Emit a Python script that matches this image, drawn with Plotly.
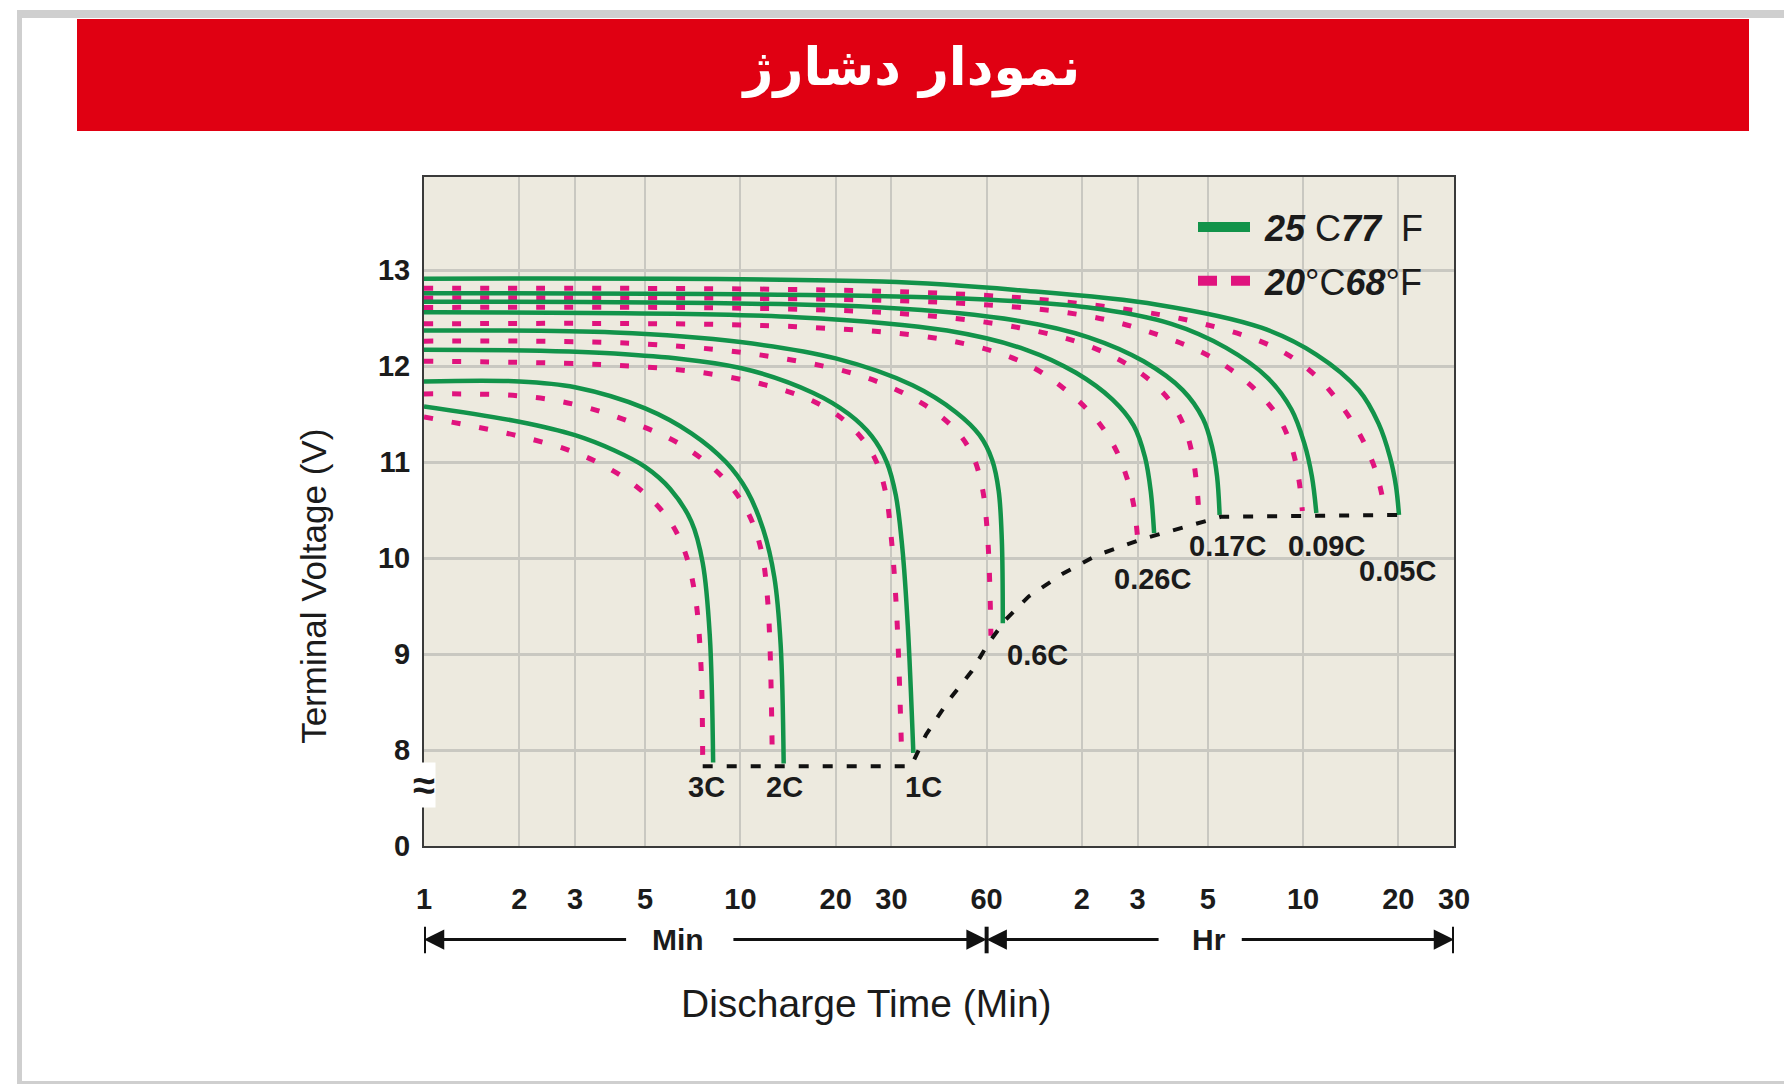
import math
import plotly.graph_objects as go

# discharge rates, in the order the curves end (left to right)
rates = ["3C", "2C", "1C", "0.6C", "0.26C", "0.17C", "0.09C", "0.05C"]

# 25 C / 77 F curves: time (min) and terminal voltage (V)
t25_3c = [1, 2, 3, 4, 5, 6, 7, 7.6, 8.0, 8.2]
v25_3c = [11.58, 11.42, 11.28, 11.12, 10.95, 10.72, 10.38, 9.95, 9.2, 7.87]
t25_2c = [1, 2, 3, 5, 7, 9, 10.5, 11.8, 12.8, 13.4, 13.7]
v25_2c = [11.84, 11.84, 11.78, 11.56, 11.3, 11.0, 10.7, 10.3, 9.8, 9.1, 7.86]
t25_1c = [1, 4, 10, 17, 22, 26, 29, 31, 32.5, 33.8, 35.2]
v25_1c = [12.17, 12.13, 11.98, 11.72, 11.5, 11.27, 11.0, 10.65, 10.1, 9.3, 7.97]
t25_06c = [1, 4, 10, 20, 35, 48, 57, 62.5, 65.5, 67, 67.5]
v25_06c = [12.37, 12.35, 12.25, 12.08, 11.8, 11.52, 11.28, 11.02, 10.7, 10.2, 9.32]
t25_026c = [1, 15, 45, 80, 115, 150, 175, 190, 198, 203]
v25_026c = [12.56, 12.51, 12.37, 12.17, 11.93, 11.65, 11.38, 11.05, 10.7, 10.26]
t25_017c = [1, 28, 76, 126, 188, 250, 290, 310, 321, 327]
v25_017c = [12.67, 12.61, 12.47, 12.3, 12.05, 11.75, 11.45, 11.15, 10.85, 10.45]
t25_009c = [1, 46, 126, 230, 343, 463, 551, 605, 640, 661]
v25_009c = [12.76, 12.71, 12.61, 12.44, 12.19, 11.88, 11.55, 11.2, 10.85, 10.47]
t25_005c = [1, 28, 76, 208, 443, 661, 900, 1040, 1130, 1180, 1206]
v25_005c = [12.91, 12.88, 12.79, 12.64, 12.4, 12.12, 11.75, 11.4, 11.05, 10.75, 10.45]

# 20 C / 68 F curves
t20_3c = [1, 2, 3, 4, 5, 6, 6.7, 7.2, 7.5, 7.6]
v20_3c = [11.47, 11.27, 11.1, 10.9, 10.67, 10.38, 10.05, 9.6, 8.9, 7.88]
t20_2c = [1, 2, 3, 4.4, 6.5, 8.8, 10.5, 11.6, 12.2, 12.6]
v20_2c = [11.71, 11.69, 11.6, 11.43, 11.18, 10.84, 10.49, 10.1, 9.55, 7.99]
t20_1c = [1, 4, 8, 14, 19, 23, 26.5, 28.7, 30, 31.2, 32.3]
v20_1c = [12.05, 12.01, 11.92, 11.74, 11.55, 11.33, 11.05, 10.7, 10.2, 9.4, 8.0]
t20_06c = [1, 5, 13, 25, 38, 48, 54, 58, 60.5, 61.9]
v20_06c = [12.26, 12.23, 12.09, 11.88, 11.6, 11.33, 11.08, 10.75, 10.2, 9.19]
t20_026c = [1, 15, 45, 78, 105, 132, 152, 166, 175, 180]
v20_026c = [12.44, 12.41, 12.27, 12.04, 11.77, 11.46, 11.16, 10.85, 10.55, 10.21]
t20_017c = [1, 28, 76, 126, 180, 225, 252, 268, 277, 282]
v20_017c = [12.61, 12.56, 12.4, 12.21, 11.95, 11.66, 11.38, 11.08, 10.75, 10.38]
t20_009c = [1, 46, 126, 207, 309, 419, 505, 555, 582, 597]
v20_009c = [12.71, 12.66, 12.52, 12.33, 12.09, 11.77, 11.45, 11.13, 10.82, 10.49]
t20_005c = [1, 28, 98, 266, 490, 658, 800, 920, 1000, 1050, 1089]
v20_005c = [12.81, 12.78, 12.68, 12.47, 12.19, 11.9, 11.57, 11.25, 10.98, 10.75, 10.49]

# end-of-discharge line
cutoff_time = [7.6, 34.6, 38.6, 45.6, 53.8, 61, 69, 81.5, 104.7, 134, 187, 261, 330, 1206]
cutoff_volt = [7.83, 7.83, 8.16, 8.52, 8.82, 9.12, 9.36, 9.6, 9.84, 10.03, 10.2, 10.34, 10.43, 10.45]

# rate labels
label_time = [7.83, 13.8, 37.9, 87.1, 201, 346, 713, 1191]
label_volt = [7.61, 7.61, 7.61, 8.99, 9.78, 10.13, 10.13, 9.87]

# axes
x_tickvals = [1, 2, 3, 5, 10, 20, 30, 60, 120, 180, 300, 600, 1200, 1800]
x_ticktext = ["1", "2", "3", "5", "10", "20", "30", "60", "2", "3", "5", "10", "20", "30"]
y_tickvals = [7, 8, 9, 10, 11, 12, 13]
y_ticktext = ["0", "8", "9", "10", "11", "12", "13"]

curves_25 = [(t25_3c, v25_3c), (t25_2c, v25_2c), (t25_1c, v25_1c), (t25_06c, v25_06c),
             (t25_026c, v25_026c), (t25_017c, v25_017c), (t25_009c, v25_009c), (t25_005c, v25_005c)]
curves_20 = [(t20_3c, v20_3c), (t20_2c, v20_2c), (t20_1c, v20_1c), (t20_06c, v20_06c),
             (t20_026c, v20_026c), (t20_017c, v20_017c), (t20_009c, v20_009c), (t20_005c, v20_005c)]

GREEN = "#12934A"
MAGENTA = "#E0137E"
PLOT_BG = "#EDEADF"
GRID = "#C9C8C1"
INK = "#1b1b1b"
FONT = "Liberation Sans"

# page offset of the plotly div (body margin), and the plot box in page pixels
OFF = 8
L, R, T, B = 424 - OFF, 1454 - OFF, 177 - OFF, 846 - OFF


def px(x):
    """page x pixel -> paper x"""
    return (x - OFF - L) / (R - L)


def py(y):
    """page y pixel -> paper y"""
    return (B - (y - OFF)) / (B - T)


fig = go.Figure()

for (t, v), rate in zip(curves_20, rates):
    fig.add_trace(go.Scatter(
        x=t, y=v, mode="lines", name=rate, showlegend=False,
        line=dict(color=MAGENTA, width=5, dash="9px,19px", shape="spline", smoothing=1)
    ))

for (t, v), rate in zip(curves_25, rates):
    fig.add_trace(go.Scatter(
        x=t, y=v, mode="lines", name=rate, showlegend=False,
        line=dict(color=GREEN, width=4.5, shape="spline", smoothing=1)
    ))

fig.add_trace(go.Scatter(
    x=cutoff_time, y=cutoff_volt, mode="lines", showlegend=False,
    line=dict(color="#111111", width=4, dash="10px,14px")
))

# legend entries
fig.add_trace(go.Scatter(
    x=[None], y=[None], mode="lines", legendgroup="a",
    name="\u00a0<b><i>25</i></b>\u00a0C<b><i>77</i></b>\u00a0\u00a0F",
    line=dict(color=GREEN, width=10)
))
fig.add_trace(go.Scatter(
    x=[None], y=[None], mode="lines", legendgroup="b",
    name="\u00a0<b><i>20</i></b>°C<b><i>68</i></b>°F",
    line=dict(color=MAGENTA, width=10, dash="19px,14px")
))

for rate, t, v in zip(rates, label_time, label_volt):
    fig.add_annotation(
        x=math.log10(t), y=v, text=rate, showarrow=False,
        font=dict(family=FONT, size=29, color=INK, weight="bold")
    )

# axis break mark
fig.add_annotation(
    xref="paper", x=0, xanchor="center", y=7.64, text="≈", showarrow=False,
    bgcolor="white", borderpad=0,
    font=dict(family=FONT, size=40, color=INK, weight="bold")
)

# axis titles
fig.add_annotation(
    xref="paper", x=px(314), xanchor="center", y=9.70, text="Terminal Voltage (V)",
    textangle=-90, showarrow=False, font=dict(family=FONT, size=35, color=INK)
)
fig.add_annotation(
    xref="paper", x=px(866), xanchor="center", yref="paper", y=py(1003), yanchor="middle",
    text="Discharge Time (Min)", showarrow=False, font=dict(family=FONT, size=39, color=INK)
)

# Min / Hr arrows under the time axis
arrow_y = py(939.5)
for head, tail in [(1, 4.4), (60, 9.4), (60, 212), (1800, 380)]:
    fig.add_annotation(
        x=math.log10(head), y=arrow_y, yref="paper", ax=math.log10(tail), axref="x",
        ay=0, ayref="pixel", text="", showarrow=True, arrowhead=2, arrowsize=1.35,
        arrowwidth=3, arrowcolor="#111111", standoff=0
    )
for txt, t in [("Min", 6.34), ("Hr", 303)]:
    fig.add_annotation(
        x=math.log10(t), y=arrow_y, yref="paper", yanchor="middle", text=txt,
        showarrow=False, font=dict(family=FONT, size=30, color=INK, weight="bold")
    )
for t in [1, 60, 1800]:
    fig.add_shape(type="line", xref="x", yref="paper", x0=t, x1=t,
                  y0=py(926.7), y1=py(953.3), line=dict(color="#111111", width=4))

# legend backdrop: hides the grid but stays under the curves
fig.add_shape(type="rect", xref="paper", yref="paper", x0=px(1185), x1=1,
              y0=py(300), y1=py(193), fillcolor=PLOT_BG, line_width=0, layer="between")

# page frame and red header
fig.add_shape(type="rect", xref="paper", yref="paper", x0=px(17), x1=px(1810),
              y0=py(18), y1=py(10), fillcolor="#CFCFCF", line_width=0, layer="below")
fig.add_shape(type="rect", xref="paper", yref="paper", x0=px(17), x1=px(22),
              y0=py(1100), y1=py(10), fillcolor="#CFCFCF", line_width=0, layer="below")
fig.add_shape(type="rect", xref="paper", yref="paper", x0=px(17), x1=px(1810),
              y0=py(1100), y1=py(1081), fillcolor="#CFCFCF", line_width=0, layer="below")
fig.add_shape(type="rect", xref="paper", yref="paper", x0=px(77), x1=px(1749),
              y0=py(131), y1=py(19), fillcolor="#E00012", line_width=0, layer="below")

fig.update_layout(
    width=1792, height=1084,
    margin=dict(l=L, r=1792 - R, t=T, b=1084 - B, autoexpand=False),
    paper_bgcolor="white", plot_bgcolor=PLOT_BG,
    font=dict(family=FONT, color=INK),
    title=dict(
        text="نمودار دشارژ", x=px(912), xref="paper", xanchor="center",
        y=1 - 59 / 1084, yref="container", yanchor="middle",
        font=dict(family="DejaVu Sans", size=52, color="white", weight="bold")
    ),
    legend=dict(
        x=px(1193), y=py(197), xanchor="left", yanchor="top",
        bgcolor="rgba(0,0,0,0)", font=dict(family=FONT, size=36, color=INK),
        itemwidth=52, tracegroupgap=4
    ),
    xaxis=dict(
        type="log", range=[0, math.log10(1800)],
        tickvals=x_tickvals, ticktext=x_ticktext, ticks="", ticklabelstandoff=26,
        tickfont=dict(family=FONT, size=29, color=INK, weight="bold"),
        showgrid=True, gridcolor=GRID, gridwidth=2,
        showline=True, linecolor="#3a3a3a", linewidth=2, mirror=True,
        zeroline=False
    ),
    yaxis=dict(
        range=[7.0, 13.97],
        tickvals=y_tickvals, ticktext=y_ticktext, ticks="", ticklabelstandoff=6,
        tickfont=dict(family=FONT, size=29, color=INK, weight="bold"),
        showgrid=True, gridcolor=GRID, gridwidth=3,
        showline=True, linecolor="#3a3a3a", linewidth=2, mirror=True,
        zeroline=False
    ),
)

fig.write_html("out.html")
